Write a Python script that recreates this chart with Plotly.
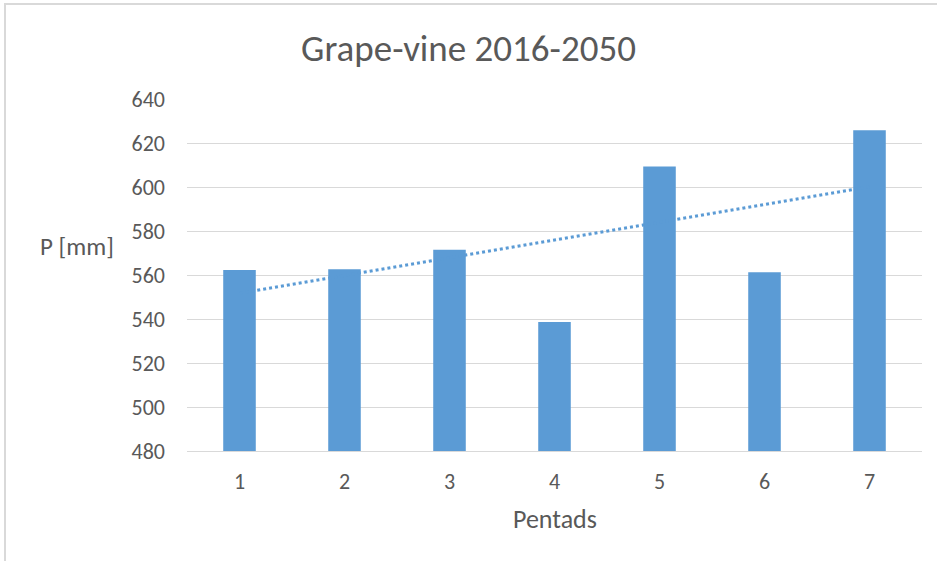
import numpy as np
import plotly.graph_objects as go

pentads = [1, 2, 3, 4, 5, 6, 7]
precip_mm = [562.3, 562.6, 571.5, 538.6, 609.3, 561.3, 625.8]
y_ticks = [480, 500, 520, 540, 560, 580, 600, 620, 640]

slope, intercept = np.polyfit(pentads, precip_mm, 1)
trend = [slope * x + intercept for x in pentads]

FONT = "Carlito, Open Sans, Liberation Sans, sans-serif"
GREY = "#595959"

W, H = 937, 561
L, R, T, B = 187, 15, 99, 110
pw, ph = W - L - R, H - T - B

def px(x):
    return (x - L) / pw

def py(y):
    return (H - B - y) / ph

fig = go.Figure()
fig.add_trace(go.Bar(x=pentads, y=precip_mm, marker=dict(color="#5b9bd5", line=dict(width=0)),
                     width=0.31, showlegend=False))
fig.add_trace(go.Scatter(x=pentads, y=trend, mode="lines",
                         line=dict(color="#5b9bd5", width=3, dash="dot"), showlegend=False))

fig.update_layout(
    width=W, height=H,
    margin=dict(l=L, r=R, t=T, b=B),
    paper_bgcolor="white", plot_bgcolor="white",
    title=dict(text="Grape-vine 2016-2050", x=0.5, xanchor="center", y=1 - 48 / H, yanchor="middle",
               font=dict(family=FONT, size=37, color=GREY)),
    xaxis=dict(tickmode="array", tickvals=pentads, ticktext=[str(p) for p in pentads],
               range=[0.5, 7.5], showgrid=False, showline=True, linecolor="#d9d9d9", linewidth=1,
               ticks="", ticklabelstandoff=11, tickfont=dict(family=FONT, size=22, color=GREY),
               zeroline=False),
    yaxis=dict(range=[480, 640], tickvals=y_ticks, showgrid=True, gridcolor="#d9d9d9", gridwidth=1,
               showline=False, ticks="", ticklabelstandoff=21,
               tickfont=dict(family=FONT, size=22, color=GREY), zeroline=False),
    annotations=[
        dict(text="P [mm]", xref="paper", yref="paper", x=px(77), y=py(246),
             xanchor="center", yanchor="middle", showarrow=False,
             font=dict(family=FONT, size=25, color=GREY)),
        dict(text="Pentads", xref="paper", yref="paper", x=px(555), y=py(519),
             xanchor="center", yanchor="middle", showarrow=False,
             font=dict(family=FONT, size=26, color=GREY)),
    ],
    shapes=[dict(type="rect", xref="paper", yref="paper", x0=px(5), x1=px(945), y0=py(570), y1=py(4),
                 line=dict(color="#d9d9d9", width=2))],
)

fig.write_html("out.html", post_script="document.body.style.margin='0';",
               config={"displayModeBar": False})
